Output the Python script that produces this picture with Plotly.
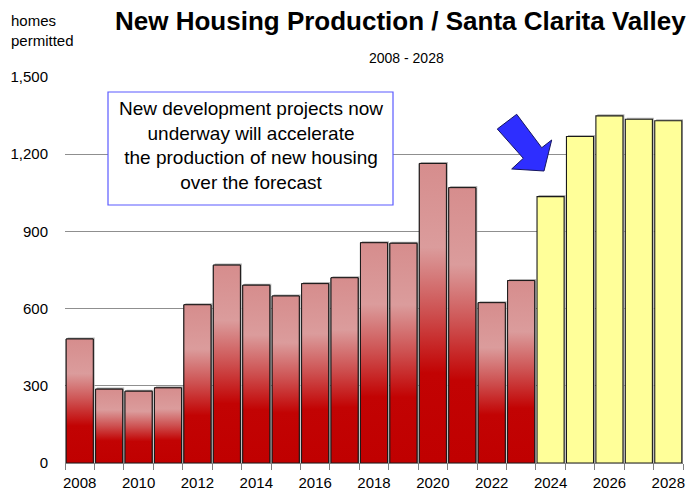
import plotly.graph_objects as go

# ---- data ----
hist_years = [2008, 2009, 2010, 2011, 2012, 2013, 2014, 2015, 2016, 2017,
              2018, 2019, 2020, 2021, 2022, 2023]
hist_values = [482, 287, 279, 292, 615, 769, 691, 649, 697, 720,
               856, 854, 1164, 1070, 623, 709]
fcst_years = [2024, 2025, 2026, 2027, 2028]
fcst_values = [1035, 1269, 1349, 1336, 1330]
x_tick_years = [2008, 2010, 2012, 2014, 2016, 2018, 2020, 2022, 2024, 2026, 2028]
y_ticks = [0, 300, 600, 900, 1200, 1500]

W, H = 697, 495
L, R, T, B = 65, 14, 77, 32
PW, PH = W - L - R, H - T - B
BAR_W = 0.92
SHADOW_DX = 0.05   # category units
SHADOW_DY = 6      # value units


def px(x):
    return (x - L) / PW


def py(y):
    return (H - B - y) / PH


all_years = hist_years + fcst_years
all_values = hist_values + fcst_values

fig = go.Figure()

# soft shadow behind every bar
fig.add_trace(go.Bar(
    x=all_years, y=[v + SHADOW_DY for v in all_values], width=BAR_W,
    offset=-BAR_W / 2 + SHADOW_DX,
    marker=dict(color="#b4b4b4", line=dict(width=0)),
    hoverinfo="skip", showlegend=False))

fig.add_trace(go.Bar(
    x=hist_years, y=hist_values, width=BAR_W,
    marker=dict(color="#c00000", line=dict(color="#1a1a1a", width=1)),
    showlegend=False))

fig.add_trace(go.Bar(
    x=fcst_years, y=fcst_values, width=BAR_W,
    marker=dict(color="#ffff99", line=dict(color="#1a1a1a", width=1.1)),
    showlegend=False))

# gradient fill on the historical bars
red_scale = [[0.0, "#c00000"], [0.30, "#c20303"], [0.50, "#cd4f4f"],
             [0.72, "#db9c9c"], [1.0, "#d68d8d"]]

for yr, v in zip(hist_years, hist_values):
    x0, x1 = yr - BAR_W / 2, yr + BAR_W / 2
    fig.add_trace(go.Scatter(
        x=[x0, x1, x1, x0, x0], y=[0, 0, v, v, 0],
        mode="lines", fill="toself",
        fillgradient=dict(type="vertical", colorscale=red_scale),
        line=dict(width=1, color="#1a1a1a"),
        hoverinfo="skip", showlegend=False))

# arrow (pixel outline -> paper)
arrow_pts = [(497.3, 129.0), (516.7, 114.3), (541.7, 147.7), (551.7, 140.0),
             (544.0, 171.0), (511.7, 169.0), (523.3, 158.3)]
path = "M " + " L ".join(f"{px(a):.4f},{py(b):.4f}" for a, b in arrow_pts) + " Z"

shapes = [
    dict(type="rect", xref="paper", yref="paper",
         x0=px(108), x1=px(393), y0=py(205), y1=py(92),
         fillcolor="white", line=dict(color="#5b5bff", width=1.2), layer="above"),
    dict(type="path", xref="paper", yref="paper", path=path,
         fillcolor="#2e2eff", line=dict(color="#151560", width=1), layer="above"),
]

annotations = [
    dict(text="<b>New Housing Production / Santa Clarita Valley</b>",
         xref="paper", yref="paper", x=px(400.5), y=py(21),
         xanchor="center", yanchor="middle", showarrow=False,
         font=dict(family="Liberation Sans, Arial", size=26, color="black")),
    dict(text="2008 - 2028", xref="paper", yref="paper", x=px(406), y=py(58),
         xanchor="center", yanchor="middle", showarrow=False,
         font=dict(family="Liberation Sans, Arial", size=14, color="black")),
    dict(text="homes<br>permitted", xref="paper", yref="paper", x=px(9), y=py(10),
         xanchor="left", yanchor="top", align="left", showarrow=False,
         font=dict(family="Liberation Sans, Arial", size=15, color="black")),
    dict(text="New development projects now<br>underway will accelerate<br>"
              "the production of new housing<br>over the forecast",
         xref="paper", yref="paper", x=px(250.5), y=py(145),
         xanchor="center", yanchor="middle", align="center", showarrow=False,
         font=dict(family="Liberation Sans, Arial", size=19, color="black")),
]

fig.update_layout(
    width=W, height=H,
    margin=dict(l=L, r=R, t=T, b=B, pad=0),
    paper_bgcolor="white", plot_bgcolor="white",
    barmode="overlay",
    shapes=shapes, annotations=annotations,
    font=dict(family="Liberation Sans, Arial", size=15, color="black"),
    xaxis=dict(
        range=[2007.5, 2028.5], tickmode="array", tickvals=x_tick_years,
        ticktext=[str(y) for y in x_tick_years], ticks="", showgrid=False,
        showline=True, linecolor="#7f7f7f", linewidth=1, zeroline=False,
        automargin=False, ticklabelstandoff=6,
        minor=dict(tickmode="array",
                   tickvals=[y - 0.5 for y in all_years] + [2028.5],
                   ticks="outside", ticklen=6, tickcolor="#7f7f7f", tickwidth=1,
                   showgrid=False),
        tickfont=dict(size=15),
    ),
    yaxis=dict(
        range=[0, 1500], tickmode="array", tickvals=y_ticks,
        ticktext=[f"{v:,}" for v in y_ticks],
        showgrid=True, gridcolor="#8f8f8f", gridwidth=1, zeroline=False,
        showline=False, ticks="", ticklabelstandoff=16, automargin=False,
        tickfont=dict(size=15),
    ),
)

fig.write_html("out.html", config={"displayModeBar": False},
               post_script="document.body.style.margin='0';document.body.style.overflow='hidden';")
